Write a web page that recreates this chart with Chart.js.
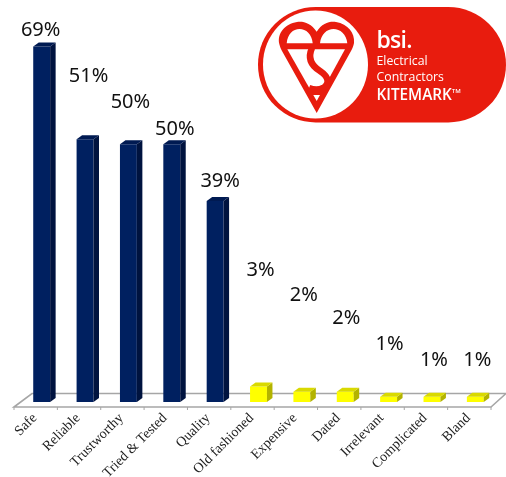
<!DOCTYPE html>
<html>
<head>
<meta charset="utf-8">
<style>
  html, body { margin: 0; padding: 0; background: #fff; overflow: hidden; }
  #wrap { position: relative; width: 506px; height: 477px; }
  #logo { position: absolute; left: 0; top: 0; }
</style>
</head>
<body>
<div id="wrap">
  <canvas id="myChart" width="506" height="477"></canvas>
  <svg id="logo" width="506" height="130" viewBox="0 0 506 130">
    <rect x="258" y="7" width="248" height="115.5" rx="57.7" fill="#e81c0e"/>
    <ellipse cx="315.5" cy="64.5" rx="52.5" ry="54" fill="#fff"/>
    <path d="M316.7 31.7 C311 23 303 21 297 22 C285 24 277 33 279.3 44 C280 47 281 49 282 51 L316.7 113 L351 51 C352.5 48 353.5 46 354 43 C355 33 348 24 336 22 C330 21 322 23 316.7 31.7 Z" fill="#e81c0e"/>
    <path d="M286.7 43.3 C287.5 34 293 29 299.5 29 C306 29 312 34 312.7 43.3 Z M320 43.3 C321 34 327 29 333.5 29 C340 29 346.5 34 347.3 43.3 Z" fill="#fff"/>
    <path d="M287.3 49.3 L345 49.3 L316.7 101 Z" fill="#fff"/>
    <path d="M312 48 C307 59 312 66 320 71 C329 77 330 84 323 88 C319 90 314 90 309 88" fill="none" stroke="#e81c0e" stroke-width="6.5"/>
    <rect x="309" y="90" width="16" height="5" fill="#e81c0e"/>
    <g fill="#fff" font-family="'Open Sans', sans-serif">
      <text x="376.5" y="48" font-size="23" font-weight="600" letter-spacing="-0.7">bsi.</text>
      <text x="376.5" y="65" font-size="12.3">Electrical</text>
      <text x="376.5" y="80.7" font-size="12.3">Contractors</text>
      <text x="376.5" y="100" font-size="15.3" font-weight="600">KITEMARK<tspan font-size="6" dy="-7">TM</tspan></text>
    </g>
  </svg>
</div>
<script src="https://cdn.jsdelivr.net/npm/chart.js@4/dist/chart.umd.min.js"></script>
<script>
const categories = ['Safe', 'Reliable', 'Trustworthy', 'Tried & Tested', 'Quality', 'Old fashioned', 'Expensive', 'Dated', 'Irrelevant', 'Complicated', 'Bland'];
const values = [69, 51, 50, 50, 39, 3, 2, 2, 1, 1, 1];
const valueLabels = ['69%', '51%', '50%', '50%', '39%', '3%', '2%', '2%', '1%', '1%', '1%'];

// how far each label floats from the top of its bar (the labels were hand placed in the original)
const labelShiftX = [-1, 3.5, 2, 3, 5, 2, 2, 1, 1, 2, 2];
const labelShiftY = [16, 63, 42, 15, 20, 116, 96, 73, 53, 37, 37];

const frontColors = values.map((v, i) => i < 5 ? '#002060' : '#ffff00');
const sideColors = values.map((v, i) => i < 5 ? '#00133f' : '#b3b300');
const topColors = values.map((v, i) => i < 5 ? '#001a52' : '#d9d900');

const depthX = 5.5, depthY = 4;

function poly(c, pts, color) {
    c.fillStyle = color;
    c.beginPath();
    pts.forEach((p, i) => i ? c.lineTo(p[0], p[1]) : c.moveTo(p[0], p[1]));
    c.closePath();
    c.fill();
}

const fake3d = {
    id: 'fake3d',
    beforeDatasetsDraw(chart) {
        const c = chart.ctx, x = chart.scales.x, a = chart.chartArea;
        const step = x.width / categories.length;
        const left = a.left - 6, right = a.right - 6, front = a.bottom + 5, back = a.bottom - 8.5;
        c.save();
        c.strokeStyle = '#a6a6a6';
        c.lineWidth = 1.6;
        c.beginPath();
        c.moveTo(left, front);
        c.lineTo(left + 18, back);
        c.lineTo(right + 15, back);
        c.lineTo(right, front);
        c.closePath();
        c.stroke();
        c.lineWidth = 1;
        for (let i = 0; i <= categories.length; i++) {
            const tx = left + step * i;
            c.beginPath();
            c.moveTo(tx, front);
            c.lineTo(tx, front + 3);
            c.stroke();
        }
        c.restore();
    },
    afterDatasetsDraw(chart) {
        const c = chart.ctx;
        const bars = chart.getDatasetMeta(0).data;
        c.save();
        bars.forEach((b, i) => {
            const l = b.x - b.width / 2, r = b.x + b.width / 2;
            poly(c, [[r, b.y], [r + depthX, b.y - depthY], [r + depthX, b.base - depthY], [r, b.base]], sideColors[i]);
            poly(c, [[l, b.y], [l + depthX, b.y - depthY], [r + depthX, b.y - depthY], [r, b.y]], topColors[i]);
            c.fillStyle = '#111';
            c.font = '20px "Noto Sans"';
            c.textAlign = 'center';
            c.textBaseline = 'middle';
            c.fillText(valueLabels[i], b.x + labelShiftX[i], b.y - labelShiftY[i]);
        });
        c.restore();
    }
};

new Chart(document.getElementById('myChart').getContext('2d'), {
    type: 'bar',
    plugins: [fake3d],
    data: {
        labels: categories,
        datasets: [{
            data: values,
            backgroundColor: frontColors,
            barPercentage: 0.39,
            categoryPercentage: 1
        }]
    },
    options: {
        responsive: false,
        animation: false,
        layout: { padding: { left: 20, right: 9, top: 0, bottom: 0 } },
        plugins: { legend: { display: false }, tooltip: { enabled: false } },
        scales: {
            y: { display: false, min: 0, max: 78 },
            x: {
                afterFit(scale) { scale.height = 75; scale.paddingLeft = 0; scale.paddingRight = 0; },
                grid: { display: false, drawTicks: false },
                border: { display: false },
                ticks: {
                    autoSkip: false,
                    minRotation: 45,
                    maxRotation: 45,
                    padding: 8,
                    labelOffset: -7,
                    color: '#222',
                    font: { family: '"Liberation Serif"', size: 14 }
                }
            }
        }
    }
});
</script>
</body>
</html>
